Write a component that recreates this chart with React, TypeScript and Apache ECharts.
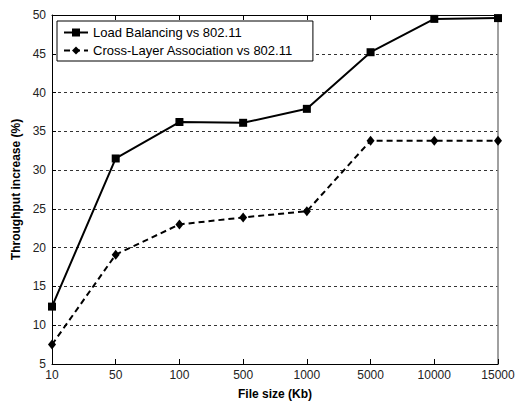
import React, { useEffect, useRef } from "react";
import * as echarts from "echarts";

const fileSizes = ["10", "50", "100", "500", "1000", "5000", "10000", "15000"];
const loadBalancing = [12.4, 31.5, 36.2, 36.1, 37.9, 45.2, 49.5, 49.6];
const crossLayer = [7.5, 19.1, 23.0, 23.9, 24.7, 33.8, 33.8, 33.8];
const seriesNames = ["Load Balancing vs 802.11", "Cross-Layer Association vs 802.11"];

const FONT = "Liberation Sans, Arial, sans-serif";

export default function App() {
  const ref = useRef<HTMLDivElement>(null);

  useEffect(() => {
    if (!ref.current) return;
    const chart = echarts.init(ref.current, null, { renderer: "svg" });
    chart.setOption({
      animation: false,
      backgroundColor: "#ffffff",
      textStyle: { fontFamily: FONT },
      grid: { left: 52, right: 22, top: 15, bottom: 38 },
      legend: {
        orient: "vertical",
        left: 57,
        top: 21,
        itemWidth: 24,
        itemHeight: 10,
        itemGap: 5,
        padding: [5, 20, 4, 6],
        borderColor: "#000",
        borderWidth: 1,
        backgroundColor: "#fff",
        textStyle: { fontSize: 13, color: "#000", fontFamily: FONT },
        data: seriesNames,
      },
      xAxis: [
        {
          type: "category",
          data: fileSizes,
          boundaryGap: false,
          name: "File size (Kb)",
          nameLocation: "middle",
          nameGap: 24,
          nameTextStyle: { fontWeight: "bold", fontSize: 12, color: "#000", fontFamily: FONT },
          axisLine: { lineStyle: { color: "#000", width: 1 } },
          axisTick: { inside: true, length: 5, lineStyle: { color: "#000" } },
          axisLabel: { fontSize: 12, color: "#222", margin: 5, fontFamily: FONT },
          splitLine: { show: false },
        },
        {
          type: "category",
          data: fileSizes,
          boundaryGap: false,
          position: "top",
          axisLine: { lineStyle: { color: "#000", width: 1 } },
          axisTick: { inside: true, length: 5, lineStyle: { color: "#000" } },
          axisLabel: { show: false },
          splitLine: { show: false },
        },
      ],
      yAxis: [
        {
          type: "value",
          min: 5,
          max: 50,
          interval: 5,
          name: "Throughput increase (%)",
          nameLocation: "middle",
          nameGap: 25,
          nameTextStyle: { fontWeight: "bold", fontSize: 12, color: "#000", fontFamily: FONT },
          axisLine: { show: true, lineStyle: { color: "#000", width: 1 } },
          axisTick: { show: true, inside: true, length: 4, lineStyle: { color: "#000" } },
          axisLabel: { fontSize: 12, color: "#222", margin: 6, fontFamily: FONT },
          splitLine: {
            show: true,
            lineStyle: { color: "#333", width: 1, type: [3, 3] },
          },
        },
        {
          type: "value",
          min: 5,
          max: 50,
          interval: 5,
          position: "right",
          axisLine: { show: true, lineStyle: { color: "#808080", width: 1.5 } },
          axisTick: { show: false },
          axisLabel: { show: false },
          splitLine: { show: false },
        },
      ],
      series: [
        {
          name: seriesNames[0],
          type: "line",
          data: loadBalancing,
          symbol: "rect",
          symbolSize: 8,
          itemStyle: { color: "#000" },
          lineStyle: { color: "#000", width: 2 },
        },
        {
          name: seriesNames[1],
          type: "line",
          data: crossLayer,
          symbol: "diamond",
          symbolSize: [8, 10],
          itemStyle: { color: "#000" },
          lineStyle: { color: "#000", width: 2, type: [6, 4] },
        },
      ],
    });
    return () => chart.dispose();
  }, []);

  return <div ref={ref} style={{ width: 520, height: 405, position: "absolute", left: 0, top: 0 }} />;
}
